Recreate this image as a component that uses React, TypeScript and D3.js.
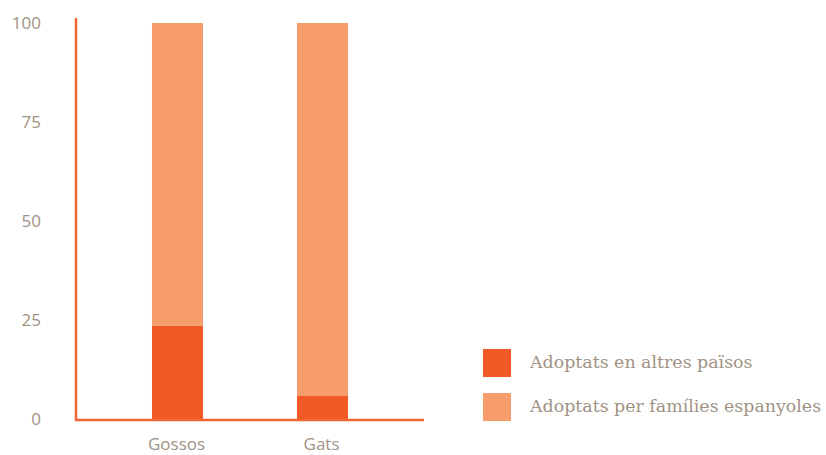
import React from "react"
import * as d3 from "d3"

const categories = ["Gossos", "Gats"]
const abroad = [23.6, 5.8]
const spanish = [76.4, 94.2]
const seriesNames = ["Adoptats en altres països", "Adoptats per famílies espanyoles"]
const yTicks = [0, 25, 50, 75, 100]

const colors = ["#F15A24", "#F69C6D"]
const axisColor = "#F26430"
const textColor = "#A09283"

export default function App() {
  const W = 826
  const H = 455
  const x = d3.scaleBand<string>().domain(categories).range([76, 424]).paddingInner(0.648).paddingOuter(0.524)
  const y = d3.scaleLinear().domain([0, 100]).range([419, 23])

  const rows = categories.map((c, i) => ({ cat: c, abroad: abroad[i], spanish: spanish[i] }))
  const stacked = d3.stack<any>().keys(["abroad", "spanish"])(rows)

  return (
    <svg width={W} height={H} style={{ position: "absolute", left: 0, top: 0 }}>
      {stacked.map((layer, li) => (
        <g key={li} fill={colors[li]}>
          {layer.map((d, i) => (
            <rect key={i} x={x(categories[i])} y={y(d[1])} width={x.bandwidth()} height={y(d[0]) - y(d[1])} />
          ))}
        </g>
      ))}
      <line x1={76} x2={76} y1={18} y2={421} stroke={axisColor} strokeWidth={2.5} />
      <line x1={75} x2={424} y1={420} y2={420} stroke={axisColor} strokeWidth={2.5} />
      {yTicks.map(t => (
        <text key={t} x={41} y={y(t) + 1} textAnchor="end" dominantBaseline="middle"
          fontFamily="'Open Sans', sans-serif" fontSize={17} fill={textColor}>{t}</text>
      ))}
      {categories.map(c => (
        <text key={c} x={(x(c) as number) + x.bandwidth() / 2 - 1} y={450} textAnchor="middle"
          fontFamily="'Open Sans', sans-serif" fontSize={17} fill={textColor}>{c}</text>
      ))}
      {seriesNames.map((s, i) => (
        <g key={s} transform={`translate(483,${349 + i * 44})`}>
          <rect width={28} height={28} fill={colors[i]} />
          <text x={47} y={14} dominantBaseline="middle" fontFamily="'DejaVu Serif', serif"
            fontSize={17.4} fill={textColor}>{s}</text>
        </g>
      ))}
    </svg>
  )
}
